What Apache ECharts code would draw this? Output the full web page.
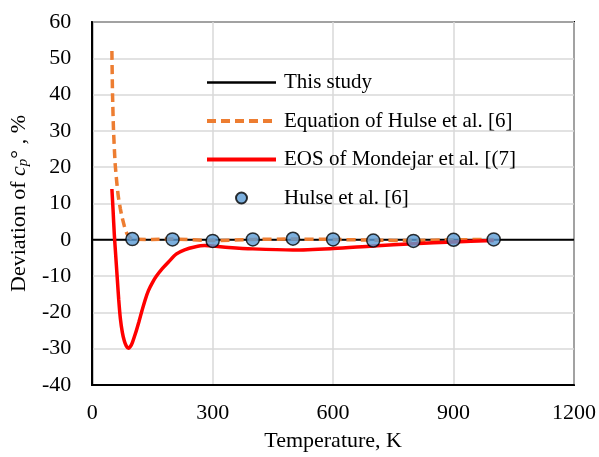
<!DOCTYPE html>
<html lang="en" style="height: 100%">
<head>
  <meta charset="utf-8">
</head>
<body style="height: 100%; margin: 0">
  <div id="container" style="height: 100%"></div>

  <script type="text/javascript" src="https://fastly.jsdelivr.net/npm/echarts@6/dist/echarts.min.js"></script>

  <script type="text/javascript">
    // values
    var studyT = [0, 1200];
    var studyDev = [0, 0];

    var eqT = [49, 50.6, 53, 57, 61, 65, 70, 74, 80, 86, 93, 100, 150, 200, 300, 400, 500, 600, 700, 800, 900, 1000];
    var eqDev = [52, 40, 30.3, 21.1, 16, 11.9, 8.6, 6.4, 3.8, 1.8, 0.7, 0.2, 0.1, 0.2, -0.2, 0.1, 0.2, 0.1, -0.1, -0.2, 0, 0.1];

    var eosT = [49, 52, 55, 58, 62, 66, 70, 75, 80, 85, 90, 95, 100, 108, 116, 124, 132, 140, 150, 160, 175, 190, 210, 230, 255, 280, 300, 340, 400, 500, 600, 700, 800, 900, 1000];
    var eosDev = [14, 8, 1.5, -3.5, -10, -16.5, -21.6, -25.5, -27.9, -29.3, -29.9, -29.4, -28.3, -25.7, -22.7, -19.5, -16.5, -14.0, -11.8, -10.0, -7.9, -6.1, -3.9, -2.8, -2.0, -1.6, -1.7, -2.1, -2.5, -2.8, -2.4, -1.7, -1.1, -0.6, -0.2];

    var hulseT = [100, 200, 300, 400, 500, 600, 700, 800, 900, 1000];
    var hulseDev = [0.2, 0.1, -0.3, 0.1, 0.3, 0.1, -0.2, -0.3, 0, 0.1];

    var xTicks = [0, 300, 600, 900, 1200];
    var yTicks = [-40, -30, -20, -10, 0, 10, 20, 30, 40, 50, 60];

    function pairs(xs, ys) {
      return xs.map(function (x, i) { return [x, ys[i]]; });
    }

    var font = 'Liberation Serif';
    var dom = document.getElementById('container');
    var myChart = echarts.init(dom, null, { renderer: 'canvas' });

    var noSymbol = { opacity: 0 };

    var option = {
      backgroundColor: '#fff',
      animation: false,
      textStyle: { fontFamily: font, color: '#000' },
      grid: {
        left: 92, right: 25, top: 22, bottom: 72,
        show: true, borderColor: '#000', borderWidth: 2
      },
      legend: {
        orient: 'vertical',
        left: 200, top: 67,
        itemWidth: 69, itemHeight: 11, itemGap: 17.5,
        textStyle: { fontFamily: font, fontSize: 21, color: '#000', padding: [0, 0, 0, 3] },
        data: [
          { name: 'This study', itemStyle: noSymbol, lineStyle: { width: 2.5 } },
          { name: 'Equation of Hulse et al. [6]', itemStyle: noSymbol, lineStyle: { width: 4, type: [9, 5] } },
          { name: 'EOS of Mondejar et al. [(7]', itemStyle: noSymbol, lineStyle: { width: 4 } },
          { name: 'Hulse et al. [6]' }
        ]
      },
      xAxis: {
        type: 'value',
        min: xTicks[0], max: xTicks[xTicks.length - 1], interval: 300,
        name: 'Temperature, K',
        nameLocation: 'middle', nameGap: 45,
        nameTextStyle: { fontFamily: font, fontSize: 22, color: '#000' },
        axisLine: { show: true, onZero: false, lineStyle: { color: '#000', width: 2 } },
        axisTick: { show: false },
        axisLabel: {
          fontFamily: font, fontSize: 22, color: '#000', margin: 17,
          formatter: function (v) { return String(v); }
        },
        splitLine: { show: true, lineStyle: { color: '#d9d9d9', width: 1.5 } }
      },
      yAxis: {
        type: 'value',
        min: yTicks[0], max: yTicks[yTicks.length - 1], interval: 10,
        name: '{n|Deviation of }{i|c}{s|p}{n|\u00b0 , %}',
        nameLocation: 'middle', nameGap: 61,
        nameTextStyle: {
          rich: {
            n: { fontFamily: font, fontSize: 22, color: '#000' },
            i: { fontFamily: font, fontSize: 22, fontStyle: 'italic', color: '#000' },
            s: { fontFamily: font, fontSize: 15, fontStyle: 'italic', color: '#000', padding: [9, 0, 0, 0] }
          }
        },
        axisLine: { show: true, onZero: false, lineStyle: { color: '#000', width: 2 } },
        axisTick: { show: false },
        axisLabel: { fontFamily: font, fontSize: 22, color: '#000', margin: 21 },
        splitLine: { show: true, lineStyle: { color: '#d9d9d9', width: 1.5 } }
      },
      series: [
        {
          name: 'This study',
          type: 'line',
          data: pairs(studyT, studyDev),
          symbol: 'none',
          lineStyle: { color: '#000', width: 2 },
          itemStyle: { color: '#000' },
          z: 2
        },
        {
          name: 'Equation of Hulse et al. [6]',
          type: 'line',
          data: pairs(eqT, eqDev),
          symbol: 'none',
          smooth: 0.2,
          lineStyle: { color: '#ed7d31', width: 3.5, type: [9, 5] },
          itemStyle: { color: '#ed7d31' },
          z: 3
        },
        {
          name: 'EOS of Mondejar et al. [(7]',
          type: 'line',
          data: pairs(eosT, eosDev),
          symbol: 'none',
          smooth: 0.3,
          lineStyle: { color: '#ff0000', width: 3.5 },
          itemStyle: { color: '#ff0000' },
          z: 4
        },
        {
          name: 'Hulse et al. [6]',
          type: 'scatter',
          data: pairs(hulseT, hulseDev),
          symbol: 'circle',
          symbolSize: 13,
          itemStyle: { color: '#5b9bd5', borderColor: '#000', borderWidth: 1.5 },
          z: 5
        }
      ]
    };

    myChart.setOption(option);
    window.addEventListener('resize', myChart.resize);
  </script>
</body>
</html>
